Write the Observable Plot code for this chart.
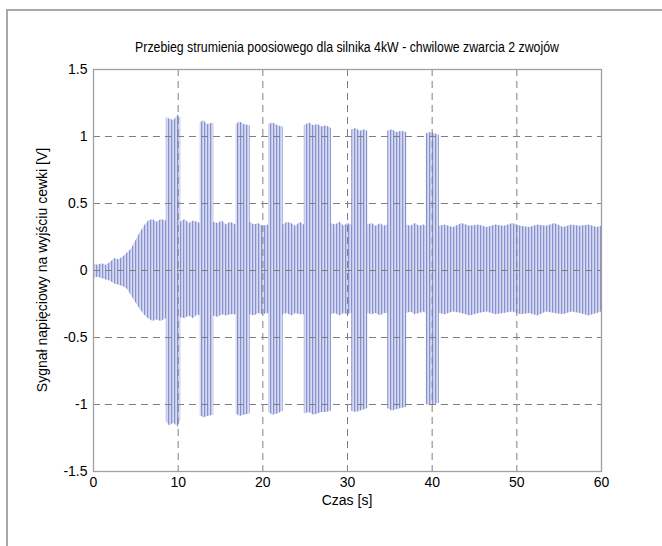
<!DOCTYPE html>
<html>
<head>
<meta charset="utf-8">
<script src="https://cdn.jsdelivr.net/npm/d3@7"></script>
<script src="https://cdn.jsdelivr.net/npm/@observablehq/plot@0.6"></script>
<style>
  html, body { margin: 0; padding: 0; background: #fff; }
  #wrap { position: relative; width: 662px; height: 546px; overflow: hidden; font-family: "Liberation Sans", Arial, sans-serif; }
  #outer { position: absolute; left: 6px; top: 9px; width: 700px; height: 600px; border-left: 2px solid #a8a8a8; border-top: 2px solid #a8a8a8; }
  .lbl { position: absolute; color: #000; white-space: nowrap; font-size: 14px; line-height: 16px; }
  #title { left: 347px; top: 39px; transform: translateX(-50%) scaleX(0.88); font-size: 14px; }
  #xlabel { left: 347px; top: 492px; transform: translateX(-50%); }
  #ylabel { left: 42px; top: 270px; transform: translate(-50%, -50%) rotate(-90deg); }
  svg { position: absolute; left: 0; top: 0; }
</style>
</head>
<body>
<div id="wrap">
  <div id="outer"></div>
</div>
<script>
const titleText = "Przebieg strumienia poosiowego dla silnika 4kW - chwilowe zwarcia 2 zwojów";
const xLabelText = "Czas [s]";
const yLabelText = "Sygnał napięciowy na wyjściu cewki [V]";
const xTicks = [0, 10, 20, 30, 40, 50, 60];
const yTicks = [-1.5, -1, -0.5, 0, 0.5, 1, 1.5];
const xGrid = [10, 20, 30, 40, 50];
const yGrid = [-1, -0.5, 0, 0.5, 1];

// Envelope of the signal (time [s], upper and lower amplitude [V])
const envT = [0,0.5,1,1.5,2,2.5,3,3.5,4,4.5,5,5.5,6,6.5,7,7.5,8,8.6,
  8.6,9,9.5,10,10.3,
  10.3,10.8,11.3,11.8,12.3,12.6,
  12.6,13,13.5,14.2,
  14.2,14.7,15.2,15.7,16.2,16.85,
  16.85,17.3,17.8,18.5,
  18.5,19,19.5,20,20.7,
  20.7,21.2,21.8,22.4,
  22.4,22.9,23.4,23.9,24.4,24.9,
  24.9,25.5,26,26.5,27,27.5,28.1,
  28.1,28.6,29.1,29.6,30,30.5,
  30.5,31,31.5,32,32.4,
  32.4,32.9,33.4,33.9,34.3,34.75,
  34.75,35.3,35.8,36.4,37,
  37,37.5,38,38.5,39,39.3,
  39.3,39.8,40.3,40.85,
  40.85,41.5,42.5,43.5,44.5,45.5,46.5,47.5,48.5,49.5,50.5,51.5,52.5,53.5,54.5,55.5,56.5,57.5,58.5,59.5,60];
const envHi = [0.05,0.04,0.05,0.04,0.06,0.09,0.08,0.10,0.13,0.16,0.22,0.28,0.33,0.37,0.38,0.36,0.38,0.37,
  1.14,1.13,1.12,1.16,1.14,
  0.36,0.38,0.35,0.37,0.36,0.35,
  1.10,1.12,1.09,1.10,
  0.36,0.35,0.37,0.34,0.36,0.34,
  1.09,1.11,1.09,1.08,
  0.36,0.34,0.35,0.33,0.34,
  1.09,1.10,1.08,1.07,
  0.34,0.36,0.35,0.33,0.36,0.34,
  1.08,1.10,1.08,1.09,1.07,1.08,1.06,
  0.35,0.34,0.36,0.33,0.35,0.34,
  1.05,1.06,1.04,1.05,1.04,
  0.34,0.35,0.33,0.35,0.33,0.34,
  1.04,1.05,1.03,1.04,1.03,
  0.34,0.33,0.35,0.33,0.34,0.33,
  1.02,1.03,1.02,1.01,
  0.33,0.34,0.32,0.35,0.33,0.34,0.32,0.34,0.33,0.35,0.33,0.32,0.34,0.33,0.35,0.32,0.34,0.33,0.34,0.32,0.33];
const envLo = [-0.06,-0.05,-0.06,-0.07,-0.08,-0.10,-0.11,-0.12,-0.14,-0.19,-0.24,-0.29,-0.33,-0.36,-0.38,-0.37,-0.38,-0.36,
  -1.13,-1.16,-1.14,-1.17,-1.12,
  -0.35,-0.36,-0.34,-0.36,-0.33,-0.34,
  -1.08,-1.10,-1.09,-1.08,
  -0.34,-0.35,-0.33,-0.34,-0.33,-0.33,
  -1.07,-1.09,-1.08,-1.07,
  -0.33,-0.34,-0.32,-0.33,-0.32,
  -1.06,-1.08,-1.07,-1.05,
  -0.33,-0.32,-0.34,-0.32,-0.33,-0.33,
  -1.07,-1.06,-1.08,-1.07,-1.06,-1.06,-1.05,
  -0.33,-0.32,-0.34,-0.32,-0.33,-0.32,
  -1.05,-1.06,-1.05,-1.04,-1.03,
  -0.32,-0.33,-0.32,-0.34,-0.32,-0.32,
  -1.03,-1.05,-1.04,-1.03,-1.02,
  -0.32,-0.31,-0.33,-0.32,-0.31,-0.32,
  -1.00,-1.01,-1.00,-0.99,
  -0.32,-0.33,-0.31,-0.32,-0.34,-0.32,-0.31,-0.33,-0.32,-0.31,-0.33,-0.32,-0.34,-0.31,-0.32,-0.33,-0.31,-0.32,-0.34,-0.32,-0.31];

const env = envT.map((t, i) => ({t, hi: envHi[i], lo: envLo[i]}));

const plot = Plot.plot({
  width: 662,
  height: 546,
  marginLeft: 93,
  marginRight: 61,
  marginTop: 69,
  marginBottom: 75,
  style: {fontFamily: "'Liberation Sans', Arial, sans-serif", fontSize: "14px", background: "transparent", color: "#000"},
  x: {domain: [0, 60]},
  y: {domain: [-1.5, 1.5]},
  marks: [
    Plot.areaY(env, {x: "t", y1: "lo", y2: "hi", fill: "url(#sigStripes)"}),
    Plot.ruleX(xGrid, {stroke: "#808080", strokeWidth: 1, strokeDasharray: "7,5"}),
    Plot.ruleY(yGrid, {stroke: "#808080", strokeWidth: 1, strokeDasharray: "7,5"}),
    Plot.frame({stroke: "#a0a0a0", strokeWidth: 1.3}),
    Plot.axisX({ticks: xTicks, tickSize: 0, tickPadding: 6, label: null, tickFormat: d => String(d), fontSize: 14}),
    Plot.axisY({ticks: yTicks, tickSize: 0, tickPadding: 6, label: null, tickFormat: d => String(d), fontSize: 14})
  ]
});

// vertical-line texture for the oscillating signal
const ns = "http://www.w3.org/2000/svg";
const defs = document.createElementNS(ns, "defs");
const pat = document.createElementNS(ns, "pattern");
pat.setAttribute("id", "sigStripes");
pat.setAttribute("patternUnits", "userSpaceOnUse");
pat.setAttribute("width", "3");
pat.setAttribute("height", "20");
const r0 = document.createElementNS(ns, "rect");
r0.setAttribute("width", "3"); r0.setAttribute("height", "20"); r0.setAttribute("fill", "#c4c9ea");
const r1 = document.createElementNS(ns, "rect");
r1.setAttribute("x", "0"); r1.setAttribute("width", "1"); r1.setAttribute("height", "20"); r1.setAttribute("fill", "#8891cf");
const r2 = document.createElementNS(ns, "rect");
r2.setAttribute("x", "2"); r2.setAttribute("width", "1"); r2.setAttribute("height", "20"); r2.setAttribute("fill", "#d8dcf2");
pat.appendChild(r0); pat.appendChild(r1); pat.appendChild(r2);
defs.appendChild(pat);
plot.insertBefore(defs, plot.firstChild);

const wrap = document.getElementById("wrap");
wrap.appendChild(plot);
for (const [id, txt] of [["title", titleText], ["xlabel", xLabelText], ["ylabel", yLabelText]]) {
  const d = document.createElement("div");
  d.id = id; d.className = "lbl"; d.textContent = txt;
  wrap.appendChild(d);
}
</script>
</body>
</html>
